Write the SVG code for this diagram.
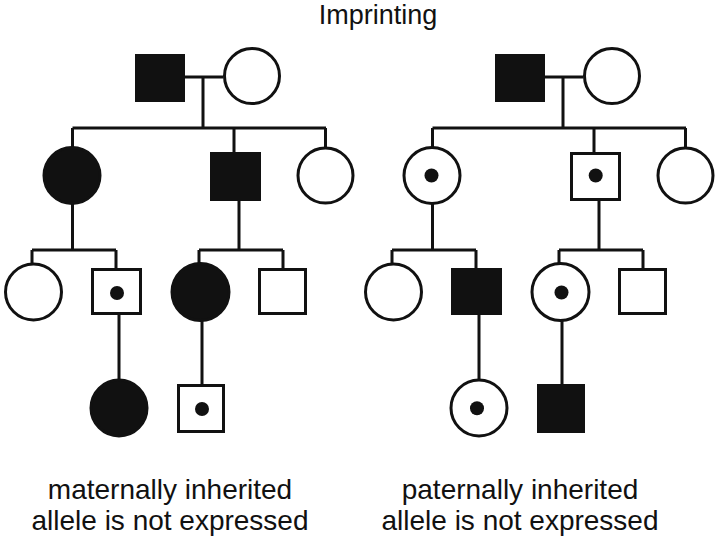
<svg xmlns="http://www.w3.org/2000/svg" width="720" height="540" viewBox="0 0 720 540">
<style>
.o{fill:#fff;stroke:#111;stroke-width:3}
.f{fill:#111;stroke:#111;stroke-width:3}
.d{fill:#111}
.l{stroke:#111;stroke-width:3;fill:none}
text{font-family:"Liberation Sans",Arial,sans-serif;fill:#111;text-anchor:middle}
</style>
<rect width="720" height="540" fill="#fff"/>
<g id="connectors" class="l">
<path d="M185 77H223.5M203 77V128M72.5 128H326M72.5 128V147M234 128V153M325.5 128V148"/>
<path d="M72.5 203V250M32 250H116M32 250V264M116 250V269M239 200V250M199 250H283M199 250V264M283 250V269"/>
<path d="M119 314V380M202 320V385"/>
<path d="M545 77H583.5M563 77V128M432.5 128H686M432.5 128V147M594 128V153M685.5 128V148"/>
<path d="M432.5 203V250M392 250H476M392 250V264M476 250V269M599 200V250M559 250H643M559 250V264M643 250V269"/>
<path d="M479 314V380M562 320V385"/>
</g>
<g id="L_father"><rect class="f" x="136.5" y="55.5" width="47" height="45"/></g>
<g id="L_mother"><circle class="o" cx="252" cy="76" r="27.5"/></g>
<g id="L_c1"><circle class="f" cx="72" cy="175.5" r="28"/></g>
<g id="L_c2"><rect class="f" x="211.5" y="153.5" width="48" height="46"/></g>
<g id="L_c3"><circle class="o" cx="325.5" cy="175.5" r="27.5"/></g>
<g id="L_g3a"><circle class="o" cx="33.5" cy="292" r="28"/></g>
<g id="L_g3b"><rect class="o" x="92.5" y="269.5" width="48" height="44"/><circle class="d" cx="117" cy="293" r="7"/></g>
<g id="L_g3c"><circle class="f" cx="200.5" cy="292" r="28.5"/></g>
<g id="L_g3d"><rect class="o" x="259.5" y="269.5" width="46" height="44"/></g>
<g id="L_g4a"><circle class="f" cx="119" cy="408" r="28"/></g>
<g id="L_g4b"><rect class="o" x="178.5" y="385.5" width="45" height="46"/><circle class="d" cx="202" cy="409" r="7"/></g>
<g id="R_father"><rect class="f" x="496.5" y="55.5" width="47" height="45"/></g>
<g id="R_mother"><circle class="o" cx="612" cy="76" r="27.5"/></g>
<g id="R_c1"><circle class="o" cx="432" cy="175.5" r="28"/><circle class="d" cx="431.5" cy="175.5" r="7"/></g>
<g id="R_c2"><rect class="o" x="571.5" y="153.5" width="48" height="46"/><circle class="d" cx="595.7" cy="175.5" r="7"/></g>
<g id="R_c3"><circle class="o" cx="685.5" cy="175.5" r="27.5"/></g>
<g id="R_g3a"><circle class="o" cx="393.5" cy="292" r="28"/></g>
<g id="R_g3b"><rect class="f" x="452.5" y="269.5" width="48" height="44"/></g>
<g id="R_g3c"><circle class="o" cx="560.5" cy="292" r="28.5"/><circle class="d" cx="561.5" cy="292.5" r="7"/></g>
<g id="R_g3d"><rect class="o" x="619.5" y="269.5" width="46" height="44"/></g>
<g id="R_g4a"><circle class="o" cx="479" cy="408" r="28"/><circle class="d" cx="477" cy="408.3" r="7"/></g>
<g id="R_g4b"><rect class="f" x="538.5" y="385.5" width="45" height="46"/></g>
<g id="labels">
<text x="378" y="24" font-size="27">Imprinting</text>
<text x="170" y="499" font-size="28">maternally inherited</text>
<text x="170" y="530" font-size="28">allele is not expressed</text>
<text x="520" y="499" font-size="28">paternally inherited</text>
<text x="520" y="530" font-size="28">allele is not expressed</text>
</g>
</svg>
